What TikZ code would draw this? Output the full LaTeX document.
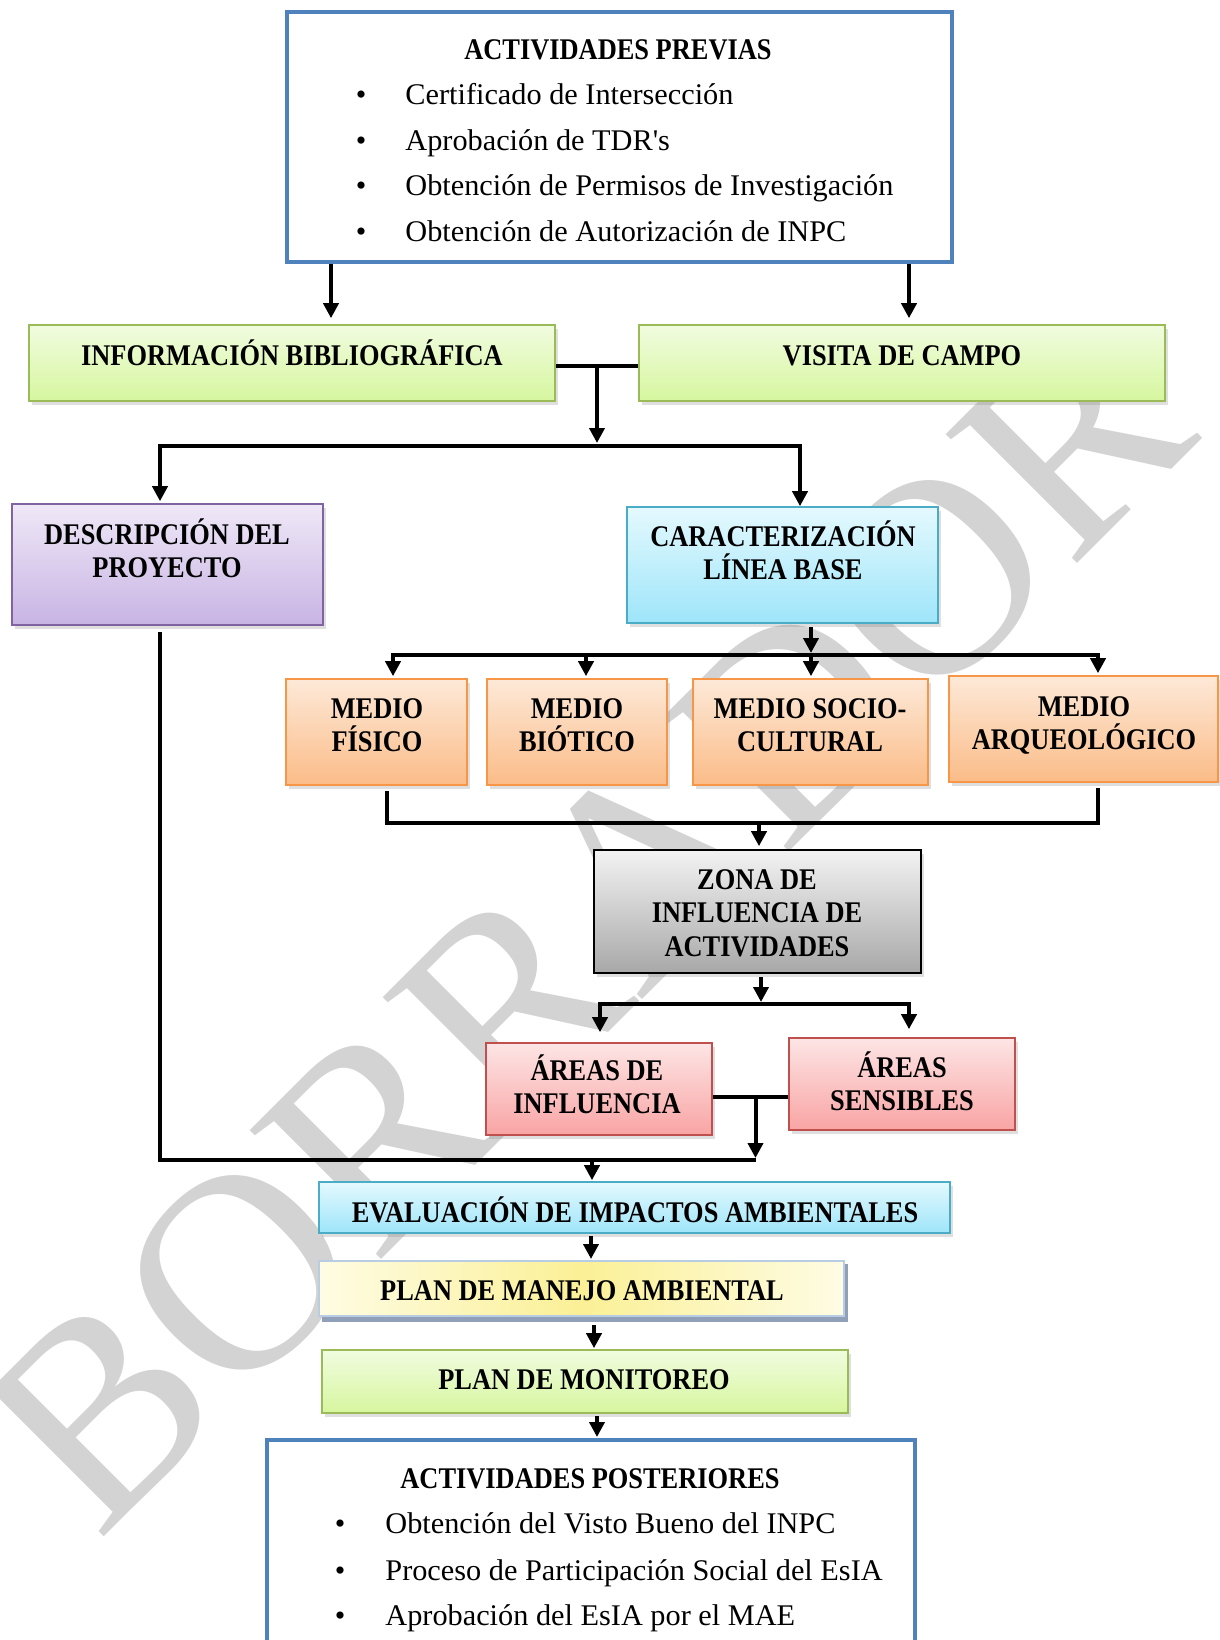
\documentclass[tikz,border=0pt]{standalone}
\usepackage{fontspec}
\setmainfont{Liberation Serif}
\newfontfamily\boxfont{Liberation Serif}[FakeStretch=0.88]
\newfontfamily\itemfont{Liberation Serif}[FakeStretch=1.01]
\usetikzlibrary{arrows.meta,shadows}
\definecolor{blueb}{RGB}{79,129,189}
\definecolor{grt}{RGB}{241,252,224}
\definecolor{grb}{RGB}{214,246,158}
\definecolor{grd}{RGB}{155,187,89}
\definecolor{put}{RGB}{239,232,247}
\definecolor{pub}{RGB}{200,180,228}
\definecolor{pud}{RGB}{128,100,162}
\definecolor{cyt}{RGB}{228,249,254}
\definecolor{cyb}{RGB}{158,229,250}
\definecolor{cyd}{RGB}{75,172,198}
\definecolor{ort}{RGB}{253,233,216}
\definecolor{orb}{RGB}{251,188,136}
\definecolor{ord}{RGB}{247,150,70}
\definecolor{gyt}{RGB}{243,243,243}
\definecolor{gyb}{RGB}{168,168,168}
\definecolor{pkt}{RGB}{253,229,229}
\definecolor{pkb}{RGB}{249,164,164}
\definecolor{pkd}{RGB}{192,80,77}
\definecolor{ylw}{RGB}{254,252,228}
\definecolor{ylc}{RGB}{251,240,150}
\definecolor{ybd}{RGB}{184,204,228}
\definecolor{ysh}{RGB}{143,160,184}
\definecolor{wm}{RGB}{211,211,211}
\tikzset{
  box/.style={draw, line width=0.8pt, inner sep=0pt,
    drop shadow={shadow xshift=1.5pt,shadow yshift=-2pt,opacity=0.25}},
  gbox/.style={box, draw=grd, top color=grt, bottom color=grb},
  pbox/.style={box, draw=pud, top color=put, bottom color=pub},
  cbox/.style={box, draw=cyd, top color=cyt, bottom color=cyb},
  obox/.style={box, draw=ord, top color=ort, bottom color=orb},
  kbox/.style={box, draw=black, top color=gyt, bottom color=gyb},
  rbox/.style={box, draw=pkd, top color=pkt, bottom color=pkb},
  listbox/.style={draw=blueb, line width=2pt, fill=white, inner sep=0pt},
  lbl/.style={font=\boxfont\bfseries\fontsize{15}{16.8}\selectfont, align=center, anchor=base, inner sep=0pt},
  item/.style={font=\itemfont\fontsize{15}{18}\selectfont, anchor=base west, inner sep=0pt},
  bul/.style={font=\fontsize{15}{18}\selectfont, anchor=base, inner sep=0pt},
  ln/.style={line width=2pt},
  arr/.style={line width=2pt, -{Triangle[length=7.5pt,width=7.5pt]}},
}
\begin{document}
\begin{tikzpicture}[x=0.5pt,y=-0.5pt]
\clip (0,0) rectangle (1220,1640);
\path[use as bounding box] (0,0) rectangle (1220,1640);
% watermark
\node[font=\fontsize{140.5}{140.5}\selectfont, text=wm, rotate=45, anchor=base, inner sep=0pt] (wmark) at (651,990) {BORRADOR};

% top box
\node[listbox, minimum width=332.5pt, minimum height=125pt] (prev) at (619.5,137) {};
\node[lbl] (prevt) at (618,59) {ACTIVIDADES PREVIAS};
\node[bul] (pb1) at (361,104) {•}; \node[item] (pi1) at (405,104) {Certificado de Intersección};
\node[bul] (pb2) at (361,150) {•}; \node[item] (pi2) at (405,150) {Aprobación de TDR\textquotesingle s};
\node[bul] (pb3) at (361,195) {•}; \node[item] (pi3) at (405,195) {Obtención de Permisos de Investigación};
\node[bul] (pb4) at (361,241) {•}; \node[item] (pi4) at (405,241) {Obtención de Autorización de INPC};

% green boxes
\node[gbox, minimum width=263pt, minimum height=38pt] (info) at (292,363) {};
\node[lbl] (infot) at (292,365) {INFORMACIÓN BIBLIOGRÁFICA};
\node[gbox, minimum width=263pt, minimum height=38pt] (visita) at (902,363) {};
\node[lbl] (visitat) at (902,365) {VISITA DE CAMPO};

% descr / carac
\node[pbox, minimum width=155.5pt, minimum height=60.5pt] (descr) at (167.5,564.5) {};
\node[lbl] (descrt) at (167,577.6) {DESCRIPCIÓN DEL\\PROYECTO};
\node[cbox, minimum width=155.5pt, minimum height=58pt] (carac) at (782.5,565) {};
\node[lbl] (caract) at (783,579.6) {CARACTERIZACIÓN\\LÍNEA BASE};

% medios
\node[obox, minimum width=90.5pt, minimum height=53pt] (fis) at (376.5,732) {};
\node[lbl] (fist) at (377,751.6) {MEDIO\\FÍSICO};
\node[obox, minimum width=90pt, minimum height=53pt] (bio) at (577,732) {};
\node[lbl] (biot) at (577,751.6) {MEDIO\\BIÓTICO};
\node[obox, minimum width=117.5pt, minimum height=53pt] (soc) at (810.5,732) {};
\node[lbl] (soct) at (810,751.6) {MEDIO SOCIO-\\CULTURAL};
\node[obox, minimum width=134.5pt, minimum height=53pt] (arq) at (1083.5,729) {};
\node[lbl] (arqt) at (1084,749.6) {MEDIO\\ARQUEOLÓGICO};

% zona
\node[kbox, minimum width=163.5pt, minimum height=61.5pt] (zona) at (757.5,911.5) {};
\node[lbl] (zonat) at (757,956.2) {ZONA DE\\INFLUENCIA DE\\ACTIVIDADES};

% areas
\node[rbox, minimum width=113pt, minimum height=46pt] (ainf) at (599,1089) {};
\node[lbl] (ainft) at (597,1113.6) {ÁREAS DE\\INFLUENCIA};
\node[rbox, minimum width=113pt, minimum height=46pt] (asen) at (902,1084) {};
\node[lbl] (asent) at (902,1110.6) {ÁREAS\\SENSIBLES};

% evaluacion, plan manejo, monitoreo
\node[cbox, minimum width=315.5pt, minimum height=25.5pt] (eval) at (634.5,1207.5) {};
\node[lbl] (evalt) at (635,1222) {EVALUACIÓN DE IMPACTOS AMBIENTALES};
\fill[ysh] (322,1264) rectangle (847.5,1322);
\node[draw=ybd, line width=1pt, left color=ylw, right color=ylw, middle color=ylc, inner sep=0pt, minimum width=262.5pt, minimum height=27.5pt] (pma) at (581.5,1288.5) {};
\node[lbl] (pmat) at (582,1300) {PLAN DE MANEJO AMBIENTAL};
\node[gbox, minimum width=263pt, minimum height=31.5pt] (mon) at (585,1381.5) {};
\node[lbl] (mont) at (584,1389) {PLAN DE MONITOREO};

% bottom box
\node[listbox, minimum width=324pt, minimum height=120pt] (post) at (591,1560) {};
\node[lbl] (postt) at (590,1488) {ACTIVIDADES POSTERIORES};
\node[bul] (qb1) at (340,1533) {•}; \node[item] (qi1) at (385,1533) {Obtención del Visto Bueno del INPC};
\node[bul] (qb2) at (340,1580) {•}; \node[item] (qi2) at (385,1580) {Proceso de Participación Social del EsIA};
\node[bul] (qb3) at (340,1625) {•}; \node[item] (qi3) at (385,1625) {Aprobación del EsIA por el MAE};

% helper coordinates
\coordinate (xA) at (331,0);
\coordinate (xB) at (909,0);
\coordinate (xJ) at (597,0);
\coordinate (xD) at (160,0);
\coordinate (xC) at (800,0);
\coordinate (h1) at (0,446);
\coordinate (xF) at (393,0);
\coordinate (xBi) at (586,0);
\coordinate (xS) at (811,0);
\coordinate (xR) at (1098,0);
\coordinate (h2) at (0,655);
\coordinate (xL) at (387,0);
\coordinate (xZ) at (759,0);
\coordinate (h3) at (0,823);
\coordinate (xZ2) at (761,0);
\coordinate (xI) at (600,0);
\coordinate (xS2) at (909,0);
\coordinate (h4) at (0,1004);
\coordinate (h5) at (0,1096.5);
\coordinate (xK) at (755.5,0);
\coordinate (h6) at (0,1160);
\coordinate (xE) at (592,0);
\coordinate (xE2) at (591,0);
\coordinate (xM) at (594,0);
\coordinate (xP) at (597,0);

% connectors
\draw[arr, shorten >=3pt] (xA |- prev.south) -- (xA |- info.north);
\draw[arr, shorten >=3pt] (xB |- prev.south) -- (xB |- visita.north);
\draw[ln] (info.east |- 0,366) -- (visita.west |- 0,366);
\draw[arr, shorten >=1.5pt] (xJ |- 0,366) -- (xJ |- h1);
\draw[arr, shorten >=1pt] (xJ |- h1) -- (xD |- h1) -- (xD |- descr.north);
\draw[arr, shorten >=0pt] (xJ |- h1) -- (xC |- h1) -- (xC |- carac.north);

\draw[arr, shorten >=1pt] ([yshift=-1.5pt]xS |- carac.south) -- (xS |- h2);
\draw[arr, shorten >=1pt] (xS |- h2) -- (xF |- h2) -- (xF |- fis.north);
\draw[arr, shorten >=1pt] (xS |- h2) -- (xR |- h2) -- (xR |- arq.north);
\draw[arr, shorten >=1pt] (xBi |- h2) -- (xBi |- bio.north);
\draw[arr, shorten >=1pt] (xS |- h2) -- (xS |- soc.north);

\draw[ln] ([yshift=-2.5pt]xL |- fis.south) -- (xL |- h3) -- (xR |- h3) -- ([yshift=-2.5pt]xR |- arq.south);
\draw[arr, shorten >=1.5pt] (xZ |- h3) -- (xZ |- zona.north);

\draw[arr, shorten >=1pt] ([yshift=-1.5pt]xZ2 |- zona.south) -- (xZ2 |- h4);
\draw[arr, shorten >=5pt] (xZ2 |- h4) -- (xI |- h4) -- (xI |- ainf.north);
\draw[arr, shorten >=4pt] (xZ2 |- h4) -- (xS2 |- h4) -- (xS2 |- asen.north);

\draw[ln] (ainf.east |- h5) -- (asen.west |- h5);
\draw[arr, shorten >=1pt] (xK |- h5) -- (xK |- h6);
\draw[ln] ([yshift=-3pt]xD |- descr.south) -- (xD |- h6) -- (xK |- h6);
\draw[arr, shorten >=0.5pt] (xE |- h6) -- (xE |- eval.north);
\draw[arr, shorten >=0.5pt] ([yshift=-1pt]xE2 |- eval.south) -- (xE2 |- pma.north);
\draw[arr, shorten >=0.5pt] ([yshift=-4pt]xM |- pma.south) -- (xM |- mon.north);
\draw[arr, shorten >=0.5pt] ([yshift=-1pt]xP |- mon.south) -- (xP |- post.north);
\end{tikzpicture}
\end{document}
